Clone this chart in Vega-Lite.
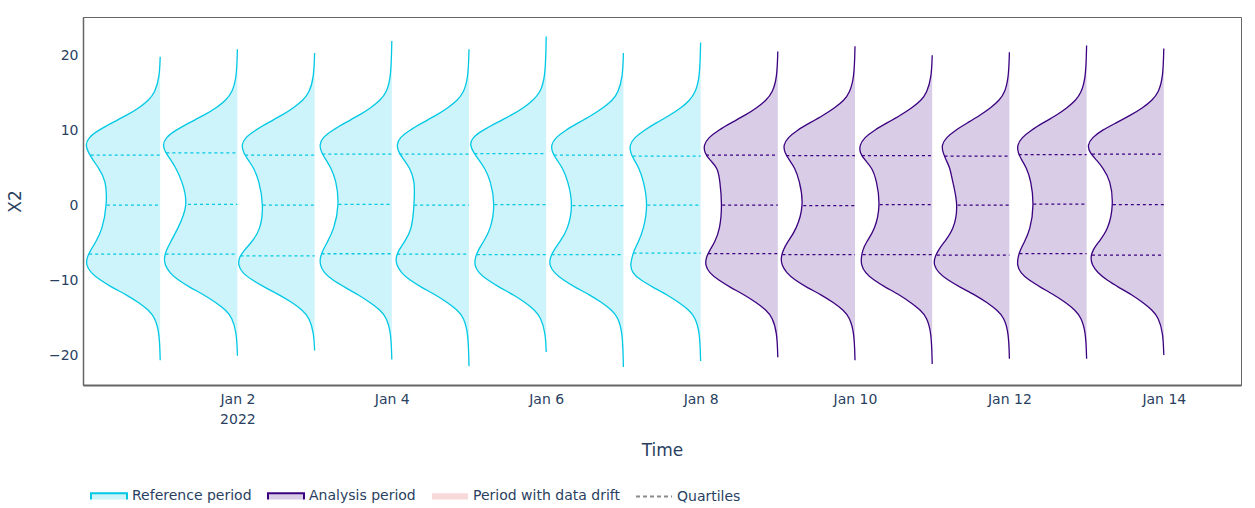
{
  "$schema": "https://vega.github.io/schema/vega-lite/v6.json",
  "autosize": {"type": "none"},
  "padding": {"left": 83, "top": 17, "right": 14, "bottom": 123},
  "width": 1158,
  "height": 368,
  "background": "white",
  "datasets": {
    "chunks": [
      {"c": 1, "p": "Reference period"}, {"c": 2, "p": "Reference period"},
      {"c": 3, "p": "Reference period"}, {"c": 4, "p": "Reference period"},
      {"c": 5, "p": "Reference period"}, {"c": 6, "p": "Reference period"},
      {"c": 7, "p": "Reference period"}, {"c": 8, "p": "Reference period"},
      {"c": 9, "p": "Analysis period"}, {"c": 10, "p": "Analysis period"},
      {"c": 11, "p": "Analysis period"}, {"c": 12, "p": "Analysis period"},
      {"c": 13, "p": "Analysis period"}, {"c": 14, "p": "Analysis period"}
    ],
    "violins": [
      {"c":1,"y":19.8,"x":1},{"c":1,"y":17,"x":0.99},{"c":1,"y":15,"x":0.93},{"c":1,"y":14,"x":0.85},{"c":1,"y":13,"x":0.73},{"c":1,"y":12,"x":0.57},{"c":1,"y":11,"x":0.38},{"c":1,"y":10,"x":0.2},{"c":1,"y":9,"x":0.07},{"c":1,"y":8,"x":0.03},{"c":1,"y":7,"x":0.07},{"c":1,"y":6,"x":0.13},{"c":1,"y":5,"x":0.2},{"c":1,"y":3.3,"x":0.3},{"c":1,"y":0,"x":0.31},{"c":1,"y":-3.3,"x":0.25},{"c":1,"y":-5,"x":0.16},{"c":1,"y":-6,"x":0.1},{"c":1,"y":-7,"x":0.05},{"c":1,"y":-8,"x":0.04},{"c":1,"y":-9,"x":0.1},{"c":1,"y":-10,"x":0.22},{"c":1,"y":-11,"x":0.38},{"c":1,"y":-12,"x":0.57},{"c":1,"y":-13,"x":0.72},{"c":1,"y":-14,"x":0.85},{"c":1,"y":-15,"x":0.93},{"c":1,"y":-17,"x":0.99},{"c":1,"y":-20.7,"x":1},
      {"c":2,"y":20.8,"x":2},{"c":2,"y":17,"x":1.99},{"c":2,"y":15,"x":1.93},{"c":2,"y":14,"x":1.85},{"c":2,"y":13,"x":1.73},{"c":2,"y":12,"x":1.57},{"c":2,"y":11,"x":1.38},{"c":2,"y":10,"x":1.2},{"c":2,"y":9,"x":1.07},{"c":2,"y":8,"x":1.03},{"c":2,"y":7,"x":1.07},{"c":2,"y":6,"x":1.14},{"c":2,"y":5,"x":1.2},{"c":2,"y":3.3,"x":1.28},{"c":2,"y":0,"x":1.37},{"c":2,"y":-3.3,"x":1.22},{"c":2,"y":-5,"x":1.13},{"c":2,"y":-6,"x":1.08},{"c":2,"y":-7,"x":1.05},{"c":2,"y":-8,"x":1.06},{"c":2,"y":-9,"x":1.12},{"c":2,"y":-10,"x":1.23},{"c":2,"y":-11,"x":1.39},{"c":2,"y":-12,"x":1.57},{"c":2,"y":-13,"x":1.72},{"c":2,"y":-14,"x":1.85},{"c":2,"y":-15,"x":1.93},{"c":2,"y":-17,"x":1.99},{"c":2,"y":-20.1,"x":2},
      {"c":3,"y":20.3,"x":3},{"c":3,"y":17,"x":2.99},{"c":3,"y":15,"x":2.93},{"c":3,"y":14,"x":2.85},{"c":3,"y":13,"x":2.73},{"c":3,"y":12,"x":2.58},{"c":3,"y":11,"x":2.4},{"c":3,"y":10,"x":2.23},{"c":3,"y":9,"x":2.1},{"c":3,"y":8,"x":2.05},{"c":3,"y":7,"x":2.08},{"c":3,"y":6,"x":2.14},{"c":3,"y":5,"x":2.21},{"c":3,"y":3.3,"x":2.28},{"c":3,"y":0,"x":2.34},{"c":3,"y":-3.3,"x":2.3},{"c":3,"y":-5,"x":2.18},{"c":3,"y":-6,"x":2.09},{"c":3,"y":-7,"x":2.02},{"c":3,"y":-8,"x":2.01},{"c":3,"y":-9,"x":2.06},{"c":3,"y":-10,"x":2.19},{"c":3,"y":-11,"x":2.36},{"c":3,"y":-12,"x":2.55},{"c":3,"y":-13,"x":2.71},{"c":3,"y":-14,"x":2.84},{"c":3,"y":-15,"x":2.93},{"c":3,"y":-17,"x":2.99},{"c":3,"y":-19.4,"x":3},
      {"c":4,"y":21.9,"x":4},{"c":4,"y":17,"x":3.99},{"c":4,"y":15,"x":3.93},{"c":4,"y":14,"x":3.85},{"c":4,"y":13,"x":3.73},{"c":4,"y":12,"x":3.58},{"c":4,"y":11,"x":3.4},{"c":4,"y":10,"x":3.23},{"c":4,"y":9,"x":3.1},{"c":4,"y":8,"x":3.06},{"c":4,"y":7,"x":3.09},{"c":4,"y":6,"x":3.15},{"c":4,"y":5,"x":3.21},{"c":4,"y":3.3,"x":3.28},{"c":4,"y":0,"x":3.32},{"c":4,"y":-3.3,"x":3.25},{"c":4,"y":-5,"x":3.16},{"c":4,"y":-6,"x":3.11},{"c":4,"y":-7,"x":3.07},{"c":4,"y":-8,"x":3.07},{"c":4,"y":-9,"x":3.12},{"c":4,"y":-10,"x":3.23},{"c":4,"y":-11,"x":3.4},{"c":4,"y":-12,"x":3.57},{"c":4,"y":-13,"x":3.72},{"c":4,"y":-14,"x":3.85},{"c":4,"y":-15,"x":3.93},{"c":4,"y":-17,"x":3.99},{"c":4,"y":-20.6,"x":4},
      {"c":5,"y":20.8,"x":5},{"c":5,"y":17,"x":4.99},{"c":5,"y":15,"x":4.93},{"c":5,"y":14,"x":4.85},{"c":5,"y":13,"x":4.73},{"c":5,"y":12,"x":4.58},{"c":5,"y":11,"x":4.4},{"c":5,"y":10,"x":4.23},{"c":5,"y":9,"x":4.1},{"c":5,"y":8,"x":4.06},{"c":5,"y":7,"x":4.09},{"c":5,"y":6,"x":4.16},{"c":5,"y":5,"x":4.23},{"c":5,"y":3.3,"x":4.3},{"c":5,"y":0,"x":4.29},{"c":5,"y":-3.3,"x":4.26},{"c":5,"y":-5,"x":4.16},{"c":5,"y":-6,"x":4.09},{"c":5,"y":-7,"x":4.05},{"c":5,"y":-8,"x":4.06},{"c":5,"y":-9,"x":4.12},{"c":5,"y":-10,"x":4.23},{"c":5,"y":-11,"x":4.39},{"c":5,"y":-12,"x":4.57},{"c":5,"y":-13,"x":4.72},{"c":5,"y":-14,"x":4.85},{"c":5,"y":-15,"x":4.93},{"c":5,"y":-17,"x":4.99},{"c":5,"y":-21.5,"x":5},
      {"c":6,"y":22.5,"x":6},{"c":6,"y":17,"x":5.99},{"c":6,"y":15,"x":5.92},{"c":6,"y":14,"x":5.83},{"c":6,"y":13,"x":5.71},{"c":6,"y":12,"x":5.55},{"c":6,"y":11,"x":5.36},{"c":6,"y":10,"x":5.18},{"c":6,"y":9,"x":5.04},{"c":6,"y":8,"x":5.01},{"c":6,"y":7,"x":5.06},{"c":6,"y":6,"x":5.13},{"c":6,"y":5,"x":5.2},{"c":6,"y":3.3,"x":5.28},{"c":6,"y":0,"x":5.34},{"c":6,"y":-3.3,"x":5.28},{"c":6,"y":-5,"x":5.18},{"c":6,"y":-6,"x":5.12},{"c":6,"y":-7,"x":5.08},{"c":6,"y":-8,"x":5.07},{"c":6,"y":-9,"x":5.12},{"c":6,"y":-10,"x":5.24},{"c":6,"y":-11,"x":5.4},{"c":6,"y":-12,"x":5.58},{"c":6,"y":-13,"x":5.73},{"c":6,"y":-14,"x":5.85},{"c":6,"y":-15,"x":5.93},{"c":6,"y":-17,"x":5.99},{"c":6,"y":-19.6,"x":6},
      {"c":7,"y":20.3,"x":7},{"c":7,"y":17,"x":6.99},{"c":7,"y":15,"x":6.93},{"c":7,"y":14,"x":6.86},{"c":7,"y":13,"x":6.74},{"c":7,"y":12,"x":6.59},{"c":7,"y":11,"x":6.42},{"c":7,"y":10,"x":6.25},{"c":7,"y":9,"x":6.12},{"c":7,"y":8,"x":6.06},{"c":7,"y":7,"x":6.08},{"c":7,"y":6,"x":6.14},{"c":7,"y":5,"x":6.21},{"c":7,"y":3.3,"x":6.28},{"c":7,"y":0,"x":6.35},{"c":7,"y":-3.3,"x":6.28},{"c":7,"y":-5,"x":6.17},{"c":7,"y":-6,"x":6.1},{"c":7,"y":-7,"x":6.05},{"c":7,"y":-8,"x":6.04},{"c":7,"y":-9,"x":6.1},{"c":7,"y":-10,"x":6.22},{"c":7,"y":-11,"x":6.38},{"c":7,"y":-12,"x":6.57},{"c":7,"y":-13,"x":6.72},{"c":7,"y":-14,"x":6.85},{"c":7,"y":-15,"x":6.93},{"c":7,"y":-17,"x":6.99},{"c":7,"y":-21.6,"x":7},
      {"c":8,"y":21.7,"x":8},{"c":8,"y":17,"x":7.99},{"c":8,"y":15,"x":7.93},{"c":8,"y":14,"x":7.86},{"c":8,"y":13,"x":7.75},{"c":8,"y":12,"x":7.6},{"c":8,"y":11,"x":7.43},{"c":8,"y":10,"x":7.27},{"c":8,"y":9,"x":7.14},{"c":8,"y":8,"x":7.08},{"c":8,"y":7,"x":7.09},{"c":8,"y":6,"x":7.14},{"c":8,"y":5,"x":7.2},{"c":8,"y":3.3,"x":7.26},{"c":8,"y":0,"x":7.32},{"c":8,"y":-3.3,"x":7.26},{"c":8,"y":-5,"x":7.19},{"c":8,"y":-6,"x":7.14},{"c":8,"y":-7,"x":7.11},{"c":8,"y":-8,"x":7.09},{"c":8,"y":-9,"x":7.11},{"c":8,"y":-10,"x":7.22},{"c":8,"y":-11,"x":7.39},{"c":8,"y":-12,"x":7.57},{"c":8,"y":-13,"x":7.72},{"c":8,"y":-14,"x":7.85},{"c":8,"y":-15,"x":7.93},{"c":8,"y":-17,"x":7.99},{"c":8,"y":-20.8,"x":8},
      {"c":9,"y":20.5,"x":9},{"c":9,"y":17,"x":8.99},{"c":9,"y":15,"x":8.93},{"c":9,"y":14,"x":8.85},{"c":9,"y":13,"x":8.73},{"c":9,"y":12,"x":8.58},{"c":9,"y":11,"x":8.4},{"c":9,"y":10,"x":8.23},{"c":9,"y":9,"x":8.1},{"c":9,"y":8,"x":8.04},{"c":9,"y":7,"x":8.05},{"c":9,"y":6,"x":8.12},{"c":9,"y":5,"x":8.22},{"c":9,"y":3.3,"x":8.25},{"c":9,"y":0,"x":8.28},{"c":9,"y":-3.3,"x":8.25},{"c":9,"y":-5,"x":8.18},{"c":9,"y":-6,"x":8.12},{"c":9,"y":-7,"x":8.07},{"c":9,"y":-8,"x":8.06},{"c":9,"y":-9,"x":8.11},{"c":9,"y":-10,"x":8.23},{"c":9,"y":-11,"x":8.39},{"c":9,"y":-12,"x":8.57},{"c":9,"y":-13,"x":8.72},{"c":9,"y":-14,"x":8.85},{"c":9,"y":-15,"x":8.93},{"c":9,"y":-17,"x":8.99},{"c":9,"y":-20.3,"x":9},
      {"c":10,"y":21.2,"x":10},{"c":10,"y":17,"x":9.99},{"c":10,"y":15,"x":9.93},{"c":10,"y":14,"x":9.86},{"c":10,"y":13,"x":9.74},{"c":10,"y":12,"x":9.59},{"c":10,"y":11,"x":9.42},{"c":10,"y":10,"x":9.25},{"c":10,"y":9,"x":9.13},{"c":10,"y":8,"x":9.07},{"c":10,"y":7,"x":9.09},{"c":10,"y":6,"x":9.15},{"c":10,"y":5,"x":9.22},{"c":10,"y":3.3,"x":9.28},{"c":10,"y":0,"x":9.34},{"c":10,"y":-3.3,"x":9.24},{"c":10,"y":-5,"x":9.12},{"c":10,"y":-6,"x":9.07},{"c":10,"y":-7,"x":9.04},{"c":10,"y":-8,"x":9.05},{"c":10,"y":-9,"x":9.11},{"c":10,"y":-10,"x":9.22},{"c":10,"y":-11,"x":9.38},{"c":10,"y":-12,"x":9.57},{"c":10,"y":-13,"x":9.72},{"c":10,"y":-14,"x":9.85},{"c":10,"y":-15,"x":9.93},{"c":10,"y":-17,"x":9.99},{"c":10,"y":-20.7,"x":10},
      {"c":11,"y":20,"x":11},{"c":11,"y":17,"x":10.99},{"c":11,"y":15,"x":10.93},{"c":11,"y":14,"x":10.86},{"c":11,"y":13,"x":10.74},{"c":11,"y":12,"x":10.59},{"c":11,"y":11,"x":10.42},{"c":11,"y":10,"x":10.25},{"c":11,"y":9,"x":10.12},{"c":11,"y":8,"x":10.06},{"c":11,"y":7,"x":10.06},{"c":11,"y":6,"x":10.13},{"c":11,"y":5,"x":10.22},{"c":11,"y":3.3,"x":10.28},{"c":11,"y":0,"x":10.33},{"c":11,"y":-3.3,"x":10.26},{"c":11,"y":-5,"x":10.14},{"c":11,"y":-6,"x":10.1},{"c":11,"y":-7,"x":10.08},{"c":11,"y":-8,"x":10.08},{"c":11,"y":-9,"x":10.13},{"c":11,"y":-10,"x":10.24},{"c":11,"y":-11,"x":10.4},{"c":11,"y":-12,"x":10.58},{"c":11,"y":-13,"x":10.72},{"c":11,"y":-14,"x":10.85},{"c":11,"y":-15,"x":10.93},{"c":11,"y":-17,"x":10.99},{"c":11,"y":-21.2,"x":11},
      {"c":12,"y":20.4,"x":12},{"c":12,"y":17,"x":11.99},{"c":12,"y":15,"x":11.94},{"c":12,"y":14,"x":11.87},{"c":12,"y":13,"x":11.76},{"c":12,"y":12,"x":11.62},{"c":12,"y":11,"x":11.46},{"c":12,"y":10,"x":11.3},{"c":12,"y":9,"x":11.18},{"c":12,"y":8,"x":11.12},{"c":12,"y":7,"x":11.14},{"c":12,"y":6,"x":11.18},{"c":12,"y":5,"x":11.23},{"c":12,"y":3.3,"x":11.26},{"c":12,"y":0,"x":11.34},{"c":12,"y":-3.3,"x":11.28},{"c":12,"y":-5,"x":11.15},{"c":12,"y":-6,"x":11.08},{"c":12,"y":-7,"x":11.03},{"c":12,"y":-8,"x":11.02},{"c":12,"y":-9,"x":11.08},{"c":12,"y":-10,"x":11.2},{"c":12,"y":-11,"x":11.37},{"c":12,"y":-12,"x":11.56},{"c":12,"y":-13,"x":11.71},{"c":12,"y":-14,"x":11.84},{"c":12,"y":-15,"x":11.93},{"c":12,"y":-17,"x":11.99},{"c":12,"y":-20.5,"x":12},
      {"c":13,"y":21.3,"x":13},{"c":13,"y":17,"x":12.99},{"c":13,"y":15,"x":12.93},{"c":13,"y":14,"x":12.86},{"c":13,"y":13,"x":12.75},{"c":13,"y":12,"x":12.61},{"c":13,"y":11,"x":12.44},{"c":13,"y":10,"x":12.28},{"c":13,"y":9,"x":12.16},{"c":13,"y":8,"x":12.1},{"c":13,"y":7,"x":12.11},{"c":13,"y":6,"x":12.16},{"c":13,"y":5,"x":12.22},{"c":13,"y":3.3,"x":12.28},{"c":13,"y":0,"x":12.32},{"c":13,"y":-3.3,"x":12.27},{"c":13,"y":-5,"x":12.19},{"c":13,"y":-6,"x":12.14},{"c":13,"y":-7,"x":12.11},{"c":13,"y":-8,"x":12.1},{"c":13,"y":-9,"x":12.14},{"c":13,"y":-10,"x":12.25},{"c":13,"y":-11,"x":12.41},{"c":13,"y":-12,"x":12.58},{"c":13,"y":-13,"x":12.73},{"c":13,"y":-14,"x":12.85},{"c":13,"y":-15,"x":12.93},{"c":13,"y":-17,"x":12.99},{"c":13,"y":-20.5,"x":13},
      {"c":14,"y":20.9,"x":14},{"c":14,"y":17,"x":13.99},{"c":14,"y":15,"x":13.93},{"c":14,"y":14,"x":13.85},{"c":14,"y":13,"x":13.73},{"c":14,"y":12,"x":13.57},{"c":14,"y":11,"x":13.39},{"c":14,"y":10,"x":13.2},{"c":14,"y":9,"x":13.07},{"c":14,"y":8,"x":13.01},{"c":14,"y":7,"x":13.04},{"c":14,"y":6,"x":13.13},{"c":14,"y":5,"x":13.21},{"c":14,"y":3.3,"x":13.31},{"c":14,"y":0,"x":13.35},{"c":14,"y":-3.3,"x":13.28},{"c":14,"y":-5,"x":13.15},{"c":14,"y":-6,"x":13.08},{"c":14,"y":-7,"x":13.05},{"c":14,"y":-8,"x":13.07},{"c":14,"y":-9,"x":13.14},{"c":14,"y":-10,"x":13.26},{"c":14,"y":-11,"x":13.42},{"c":14,"y":-12,"x":13.59},{"c":14,"y":-13,"x":13.73},{"c":14,"y":-14,"x":13.85},{"c":14,"y":-15,"x":13.93},{"c":14,"y":-17,"x":13.99},{"c":14,"y":-20,"x":14}
    ],
    "quartiles": [
      {"c":1,"y":6.67,"x":0.1},{"c":1,"y":0,"x":0.31},{"c":1,"y":-6.53,"x":0.08},
      {"c":2,"y":6.98,"x":1.08},{"c":2,"y":0.09,"x":1.36},{"c":2,"y":-6.53,"x":1.07},
      {"c":3,"y":6.67,"x":2.1},{"c":3,"y":0,"x":2.33},{"c":3,"y":-6.76,"x":2.04},
      {"c":4,"y":6.8,"x":3.1},{"c":4,"y":0.09,"x":3.31},{"c":4,"y":-6.49,"x":3.09},
      {"c":5,"y":6.8,"x":4.1},{"c":5,"y":0,"x":4.29},{"c":5,"y":-6.53,"x":4.07},
      {"c":6,"y":6.87,"x":5.07},{"c":6,"y":0.07,"x":5.33},{"c":6,"y":-6.6,"x":5.1},
      {"c":7,"y":6.67,"x":6.1},{"c":7,"y":-0.07,"x":6.34},{"c":7,"y":-6.6,"x":6.07},
      {"c":8,"y":6.53,"x":7.12},{"c":8,"y":0,"x":7.31},{"c":8,"y":-6.4,"x":7.13},
      {"c":9,"y":6.67,"x":8.07},{"c":9,"y":0,"x":8.28},{"c":9,"y":-6.47,"x":8.1},
      {"c":10,"y":6.6,"x":9.11},{"c":10,"y":-0.07,"x":9.33},{"c":10,"y":-6.6,"x":9.06},
      {"c":11,"y":6.6,"x":10.09},{"c":11,"y":0.07,"x":10.32},{"c":11,"y":-6.6,"x":10.1},
      {"c":12,"y":6.53,"x":11.16},{"c":12,"y":0,"x":11.33},{"c":12,"y":-6.67,"x":11.06},
      {"c":13,"y":6.73,"x":12.12},{"c":13,"y":0.13,"x":12.31},{"c":13,"y":-6.47,"x":12.13},
      {"c":14,"y":6.8,"x":13.07},{"c":14,"y":0.07,"x":13.34},{"c":14,"y":-6.67,"x":13.07}
    ],
    "legendItems": [
      {"p": "Reference period"}, {"p": "Analysis period"},
      {"p": "Period with data drift"}, {"p": "Quartiles"}
    ]
  },
  "encoding": {
    "y": {
      "field": "y", "type": "quantitative", "title": "X2",
      "scale": {"domain": [-24, 25.1], "nice": false, "zero": false},
      "axis": {"values": [-20, -10, 0, 10, 20], "labelPadding": 5, "titlePadding": 24, "domainWidth": 1.5}
    }
  },
  "layer": [
    {
      "data": {"name": "violins"},
      "transform": [{"lookup": "c", "from": {"data": {"name": "chunks"}, "key": "c", "fields": ["p"]}}],
      "mark": {"type": "area", "orient": "horizontal", "interpolate": "basis"},
      "encoding": {
        "x": {
          "field": "x", "type": "quantitative", "title": "Time",
          "scale": {"domain": [0, 15], "nice": false, "zero": false},
          "axis": {
            "values": [2, 4, 6, 8, 10, 12, 14],
            "labelExpr": "datum.value == 2 ? ['Jan 2', '2022'] : 'Jan ' + datum.value",
            "labelPadding": 7, "titlePadding": 16, "domainWidth": 2, "labelLineHeight": 20
          }
        },
        "x2": {"field": "c"},
        "detail": {"field": "c"},
        "fill": {"field": "p", "type": "nominal", "title": null}
      }
    },
    {
      "data": {"name": "violins"},
      "transform": [{"lookup": "c", "from": {"data": {"name": "chunks"}, "key": "c", "fields": ["p"]}}],
      "mark": {"type": "line", "interpolate": "basis", "strokeWidth": 1.3},
      "encoding": {
        "x": {"field": "x", "type": "quantitative"},
        "detail": {"field": "c"},
        "order": {"field": "y"},
        "stroke": {"field": "p", "type": "nominal", "title": null}
      }
    },
    {
      "data": {"name": "quartiles"},
      "transform": [{"lookup": "c", "from": {"data": {"name": "chunks"}, "key": "c", "fields": ["p"]}}],
      "mark": {"type": "rule", "strokeDash": [3, 3], "strokeWidth": 1.3},
      "encoding": {
        "x": {"field": "x", "type": "quantitative"},
        "x2": {"field": "c"},
        "stroke": {"field": "p", "type": "nominal", "title": null}
      }
    },
    {
      "data": {"name": "legendItems"},
      "transform": [{"filter": "false"}],
      "mark": {"type": "point", "filled": true, "opacity": 1},
      "encoding": {
        "fill": {
          "field": "p", "type": "nominal", "title": null,
          "scale": {
            "domain": ["Reference period", "Analysis period", "Period with data drift", "Quartiles"],
            "range": ["#ccf4fa", "#d8cce6", "#f8d9d9", "transparent"]
          }
        },
        "stroke": {
          "field": "p", "type": "nominal", "title": null,
          "scale": {
            "domain": ["Reference period", "Analysis period", "Period with data drift", "Quartiles"],
            "range": ["#00c8e5", "#3b0280", "transparent", "#8a8a8a"]
          }
        },
        "shape": {
          "field": "p", "type": "nominal", "title": null,
          "scale": {
            "domain": ["Reference period", "Analysis period", "Period with data drift", "Quartiles"],
            "range": ["M-1,0.18L-1,-0.18L1,-0.18L1,0.18", "M-1,0.18L-1,-0.18L1,-0.18L1,0.18", "M-1,-0.18H1V0.18H-1Z", "M-1,0H1"]
          }
        },
        "strokeDash": {
          "field": "p", "type": "nominal", "title": null,
          "scale": {
            "domain": ["Reference period", "Analysis period", "Period with data drift", "Quartiles"],
            "range": [[1, 0], [1, 0], [1, 0], [4, 3]]
          }
        }
      }
    }
  ],
  "config": {
    "font": "DejaVu Sans",
    "view": {"stroke": "#666666", "strokeWidth": 1},
    "axis": {
      "labelFont": "DejaVu Sans", "labelFontSize": 14, "labelColor": "#2a3f5f",
      "titleFont": "DejaVu Sans", "titleFontSize": 17, "titleColor": "#2a3f5f", "titleFontWeight": "normal",
      "ticks": false, "grid": false, "domainColor": "#666666"
    },
    "legend": {
      "orient": "none", "legendX": 7, "legendY": 460, "direction": "horizontal",
      "labelFont": "DejaVu Sans", "labelFontSize": 14, "labelColor": "#2a3f5f",
      "symbolSize": 1296, "symbolStrokeWidth": 2, "labelOffset": 4, "columnPadding": 12
    }
  }
}
